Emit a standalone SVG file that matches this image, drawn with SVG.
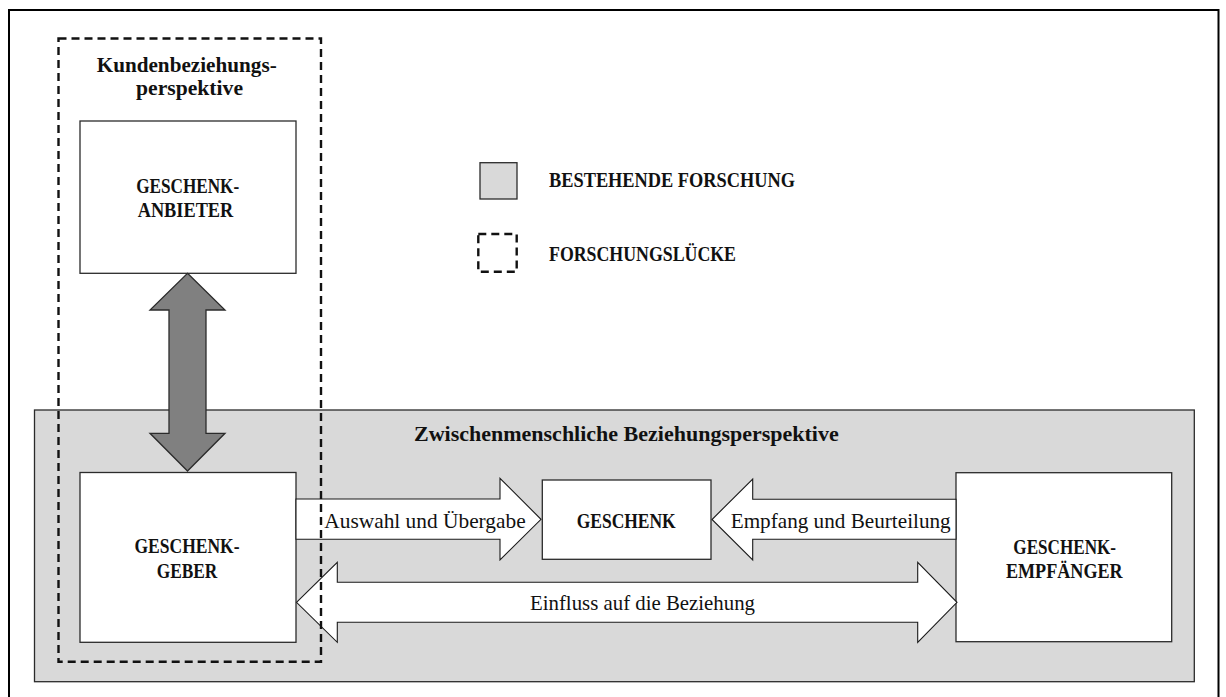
<svg xmlns="http://www.w3.org/2000/svg" width="1226" height="697" viewBox="0 0 1226 697">
  <style>
    .box { fill: #ffffff; stroke: #2b2b2b; stroke-width: 1.3; }
    .region { fill: #d9d9d9; stroke: #2b2b2b; stroke-width: 1.3; }
    .gap { fill: none; stroke: #111111; stroke-width: 2.4; stroke-dasharray: 8 5; }
    .flow { fill: #ffffff; stroke: #1a1a1a; stroke-width: 1.1; stroke-linejoin: miter; }
    .link { fill: #808080; stroke: #2b2b2b; stroke-width: 1.3; }
    text { font-family: "Liberation Serif", "DejaVu Serif", serif; fill: #111111; }
    .bold { font-weight: bold; font-size: 21px; }
    .reg { font-weight: normal; font-size: 21px; }
    .mid { text-anchor: middle; }
  </style>

  <!-- outer frame, open at the bottom edge -->
  <path d="M9,700 V10 H1218.5 V700" fill="none" stroke="#000000" stroke-width="2"/>

  <!-- interpersonal relationship area -->
  <g id="interpersonal-area">
    <rect class="region" x="34.5" y="410" width="1159.8" height="271.7"/>
    <text class="bold" x="414" y="440.7" font-family="Liberation Serif, serif" textLength="424.7" lengthAdjust="spacingAndGlyphs">Zwischenmenschliche Beziehungsperspektive</text>
  </g>

  <!-- legend -->
  <g id="legend-existing">
    <rect class="region" x="480" y="162.7" width="37" height="36.3"/>
    <text class="bold" x="549" y="187.3" font-family="Liberation Serif, serif" textLength="246" lengthAdjust="spacingAndGlyphs">BESTEHENDE FORSCHUNG</text>
  </g>
  <g id="legend-gap">
    <rect class="gap" x="478.3" y="234" width="38.4" height="37.7"/>
    <text class="bold" x="549" y="261" font-family="Liberation Serif, serif" textLength="187" lengthAdjust="spacingAndGlyphs">FORSCHUNGSLÜCKE</text>
  </g>

  <!-- nodes -->
  <g id="node-anbieter">
    <rect class="box" x="80" y="121" width="216" height="152.3"/>
    <text class="bold mid" x="187.7" y="193.3" font-family="Liberation Serif, serif" textLength="103" lengthAdjust="spacingAndGlyphs">GESCHENK-</text>
    <text class="bold mid" x="185.5" y="216.7" font-family="Liberation Serif, serif" textLength="95.6" lengthAdjust="spacingAndGlyphs">ANBIETER</text>
  </g>
  <g id="node-geber">
    <rect class="box" x="80" y="472.5" width="216" height="169.8"/>
    <text class="bold mid" x="187" y="553.3" font-family="Liberation Serif, serif" textLength="105" lengthAdjust="spacingAndGlyphs">GESCHENK-</text>
    <text class="bold mid" x="187" y="577.7" font-family="Liberation Serif, serif" textLength="60.6" lengthAdjust="spacingAndGlyphs">GEBER</text>
  </g>
  <g id="node-geschenk">
    <rect class="box" x="542.3" y="480" width="168.7" height="79.3"/>
    <text class="bold mid" x="626.2" y="527.7" font-family="Liberation Serif, serif" textLength="99" lengthAdjust="spacingAndGlyphs">GESCHENK</text>
  </g>
  <g id="node-empfaenger">
    <rect class="box" x="956" y="472.7" width="215.7" height="169"/>
    <text class="bold mid" x="1064.7" y="554.3" font-family="Liberation Serif, serif" textLength="102.7" lengthAdjust="spacingAndGlyphs">GESCHENK-</text>
    <text class="bold mid" x="1064.3" y="578.3" font-family="Liberation Serif, serif" textLength="116.7" lengthAdjust="spacingAndGlyphs">EMPFÄNGER</text>
  </g>

  <!-- connectors -->
  <g id="connectors">
    <!-- provider <-> giver -->
    <polygon class="link" points="187.5,273.3 225,310 206,310 206,433.3 225,433.3 187.5,471 150,433.3 169,433.3 169,310 150,310"/>
    <!-- selection and handover -->
    <polygon class="flow" points="296,499 500,499 500,478.3 541,519.3 500,560 500,539.3 296,539.3"/>
    <text class="reg" x="324.3" y="527.7" font-family="Liberation Serif, serif" textLength="201.4" lengthAdjust="spacingAndGlyphs">Auswahl und Übergabe</text>
    <!-- reception and assessment -->
    <polygon class="flow" points="956,499.3 752.7,499.3 752.7,479 712,519.5 752.7,560 752.7,539.3 956,539.3"/>
    <text class="reg" x="730.7" y="527.7" font-family="Liberation Serif, serif" textLength="220" lengthAdjust="spacingAndGlyphs">Empfang und Beurteilung</text>
    <!-- influence on the relationship -->
    <polygon class="flow" points="296.5,602.3 337.3,562.3 337.3,582.3 917.7,582.3 917.7,562.3 957,602.3 917.7,642.3 917.7,622.3 337.3,622.3 337.3,642.3"/>
    <text class="reg" x="530" y="610" font-family="Liberation Serif, serif" textLength="225" lengthAdjust="spacingAndGlyphs">Einfluss auf die Beziehung</text>
  </g>

  <!-- customer relationship perspective (research gap) -->
  <g id="customer-perspective">
    <rect class="gap" x="58.5" y="38.5" width="262.5" height="623.2"/>
    <text class="bold mid" x="186.7" y="72" font-family="Liberation Serif, serif" textLength="180" lengthAdjust="spacingAndGlyphs">Kundenbeziehungs-</text>
    <text class="bold mid" x="189.5" y="95" font-family="Liberation Serif, serif" textLength="107" lengthAdjust="spacingAndGlyphs">perspektive</text>
  </g>
</svg>
